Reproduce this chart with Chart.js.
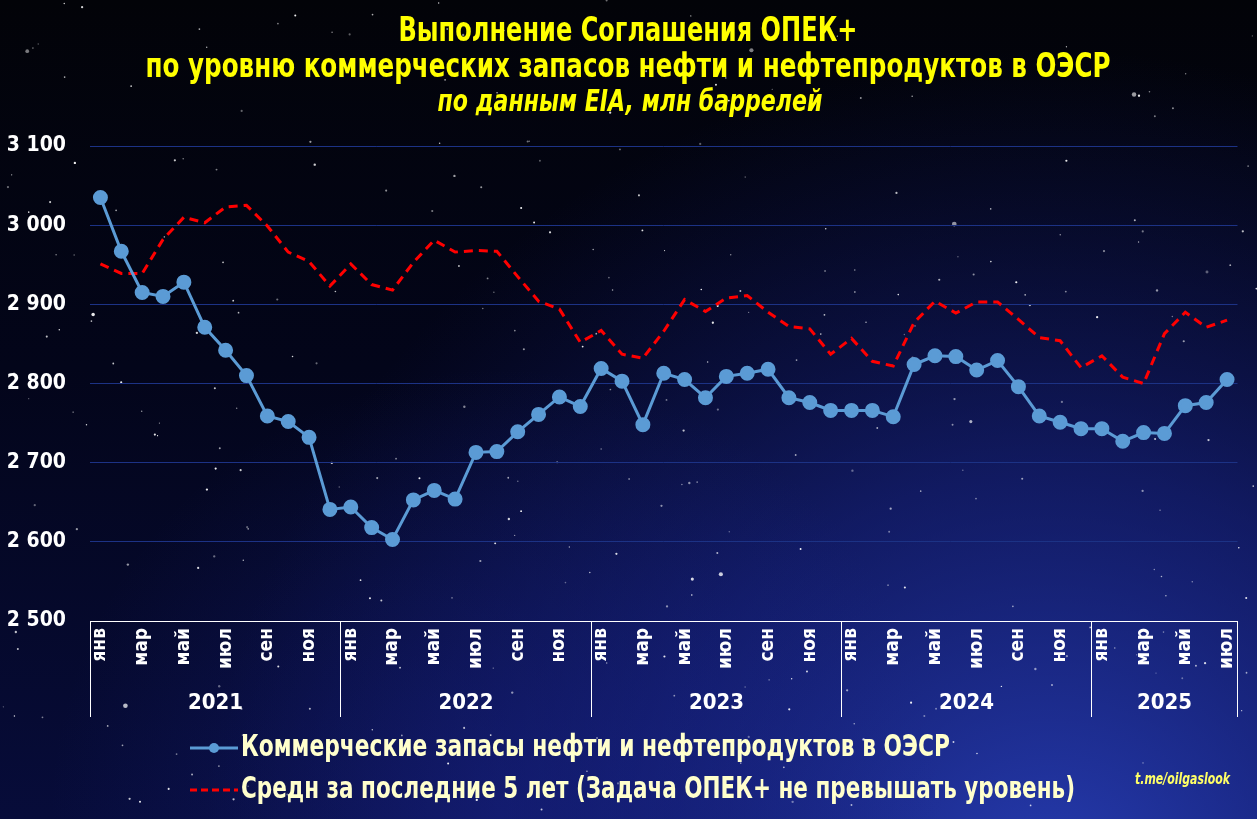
<!DOCTYPE html>
<html lang="ru">
<head>
<meta charset="UTF-8">
<title>ОПЕК+ запасы ОЭСР</title>
<script src="https://cdn.jsdelivr.net/npm/chart.js"></script>
<style>
  html, body { margin: 0; padding: 0; background: #020308; }
  canvas { display: block; }
</style>
</head>
<body>
<canvas id="chart" width="1257" height="819"></canvas>
<script>
// data (млн баррелей)
const years = [2021, 2022, 2023, 2024, 2025];
const monthNames = ['янв', 'фев', 'мар', 'апр', 'май', 'июн', 'июл', 'авг', 'сен', 'окт', 'ноя', 'дек'];
const lastMonthCount = 7; // 2025 ends in июл

const stocks = [
  3035, 2967, 2915, 2910, 2928, 2871, 2842, 2810, 2759, 2752, 2732, 2641,
  2644, 2618, 2603, 2653, 2665, 2654, 2713, 2714, 2739, 2761, 2783, 2771,
  2819, 2803, 2748, 2813, 2805, 2782, 2809, 2813, 2818, 2782, 2776, 2766,
  2766, 2766, 2758, 2824, 2835, 2834, 2817, 2829, 2796, 2759, 2751, 2743,
  2743, 2727, 2738, 2737, 2772, 2776, 2805
];
const avg5y = [
  2951, 2939, 2939, 2982, 3010, 3003, 3023, 3025, 2999, 2966, 2954, 2923,
  2951, 2925, 2918, 2953, 2981, 2966, 2968, 2967, 2935, 2904, 2894, 2852,
  2867, 2837, 2832, 2866, 2906, 2891, 2908, 2911, 2890, 2872, 2869, 2837,
  2857, 2828, 2822, 2877, 2904, 2889, 2903, 2903, 2881, 2858, 2854, 2820,
  2835, 2808, 2800, 2863, 2890, 2871, 2880
];
const yMin = 2500, yMax = 3100, yStep = 100;

const seriesNames = [
  'Коммерческие запасы нефти и нефтепродуктов в ОЭСР',
  'Средн за последние 5 лет (Задача ОПЕК+ не превышать уровень)'
];
const titleLines = [
  'Выполнение Соглашения ОПЕК+',
  'по уровню коммерческих запасов нефти и нефтепродуктов в ОЭСР'
];
const subtitle = 'по данным EIA, млн баррелей';
const watermark = 't.me/oilgaslook';

// category labels built from the arrays above
const labels = [];
years.forEach((y, yi) => {
  const n = yi === years.length - 1 ? lastMonthCount : 12;
  for (let m = 0; m < n; m++) labels.push(monthNames[m]);
});

const FONT = '"Liberation Sans Narrow", "DejaVu Sans Condensed", "Arial Narrow", sans-serif';
const blue = '#5b9bd5';
const red = '#ff0000';

function fmt(v) {
  return String(v).replace(/\B(?=(\d{3})+(?!\d))/g, ' ');
}

// background: dark sky getting bluer to the bottom right, with stars
const skyPlugin = {
  id: 'sky',
  beforeDraw(chart) {
    const { ctx, width, height } = chart;
    ctx.save();
    let g = ctx.createLinearGradient(0, 0, 0, height);
    g.addColorStop(0, '#020308');
    g.addColorStop(0.45, '#03051a');
    g.addColorStop(1, '#070c3a');
    ctx.fillStyle = g;
    ctx.fillRect(0, 0, width, height);

    g = ctx.createRadialGradient(1050, 900, 0, 1050, 900, 850);
    g.addColorStop(0, 'rgba(45,70,200,0.85)');
    g.addColorStop(0.5, 'rgba(30,45,160,0.5)');
    g.addColorStop(1, 'rgba(20,30,120,0)');
    ctx.fillStyle = g;
    ctx.fillRect(0, 0, width, height);

    g = ctx.createRadialGradient(500, 819, 0, 500, 819, 450);
    g.addColorStop(0, 'rgba(25,35,140,0.45)');
    g.addColorStop(1, 'rgba(25,35,140,0)');
    ctx.fillStyle = g;
    ctx.fillRect(0, 0, width, height);

    // fixed-seed stars (decoration only)
    let s = 20250817;
    const rnd = () => { s = (s * 16807) % 2147483647; return s / 2147483647; };
    for (let i = 0; i < 320; i++) {
      const x = rnd() * width, y = rnd() * height;
      const r = rnd() < 0.93 ? 0.6 + rnd() * 0.6 : 1.4 + rnd() * 1.2;
      ctx.fillStyle = 'rgba(255,255,255,' + (0.35 + rnd() * 0.6).toFixed(2) + ')';
      ctx.beginPath();
      ctx.arc(x, y, r, 0, Math.PI * 2);
      ctx.fill();
    }
    ctx.restore();
  }
};

// titles, year groups and legend
const decorPlugin = {
  id: 'decor',
  afterDraw(chart) {
    const { ctx } = chart;
    const xs = chart.scales.x;
    const top = chart.chartArea.bottom;
    ctx.save();

    // titles
    ctx.textAlign = 'center';
    ctx.textBaseline = 'middle';
    ctx.fillStyle = '#ffff00';
    ctx.font = 'bold 34px ' + FONT;
    ctx.fillText(titleLines[0], 628, 32, 459);
    ctx.fillText(titleLines[1], 628, 68, 965);
    ctx.font = 'italic bold 30px ' + FONT;
    ctx.fillText(subtitle, 630, 103, 385);

    // year separators and labels
    ctx.strokeStyle = '#ffffff';
    ctx.lineWidth = 1;
    let start = 0;
    ctx.font = 'bold 22px ' + FONT;
    ctx.fillStyle = '#ffffff';
    years.forEach((y, yi) => {
      const n = yi === years.length - 1 ? lastMonthCount : 12;
      const x0 = Math.round(xs.getPixelForValue(start - 0.5)) + 0.5;
      const x1 = Math.round(xs.getPixelForValue(start + n - 0.5)) + 0.5;
      ctx.beginPath();
      ctx.moveTo(x0, top);
      ctx.lineTo(x0, 717);
      if (yi === years.length - 1) {
        ctx.moveTo(x1, top);
        ctx.lineTo(x1, 717);
      }
      ctx.stroke();
      ctx.fillText(String(y), (x0 + x1) / 2, 703);
      start += n;
    });

    // legend
    ctx.textAlign = 'left';
    ctx.fillStyle = '#ffffcc';
    ctx.font = 'bold 30px ' + FONT;
    ctx.lineWidth = 3;
    ctx.strokeStyle = blue;
    ctx.beginPath();
    ctx.moveTo(190, 748);
    ctx.lineTo(238, 748);
    ctx.stroke();
    ctx.fillStyle = blue;
    ctx.beginPath();
    ctx.arc(214, 748, 5, 0, Math.PI * 2);
    ctx.fill();
    ctx.fillStyle = '#ffffcc';
    ctx.fillText(seriesNames[0], 241, 748, 709);

    ctx.strokeStyle = red;
    ctx.setLineDash([7, 4]);
    ctx.beginPath();
    ctx.moveTo(190, 790);
    ctx.lineTo(238, 790);
    ctx.stroke();
    ctx.setLineDash([]);
    ctx.fillText(seriesNames[1], 241, 790, 834);

    // watermark
    ctx.fillStyle = '#ffff66';
    ctx.font = 'italic bold 15px ' + FONT;
    ctx.fillText(watermark, 1135, 780, 95);
    ctx.restore();
  }
};

new Chart(document.getElementById('chart'), {
  type: 'line',
  data: {
    labels: labels,
    datasets: [
      {
        label: seriesNames[0],
        data: stocks,
        borderColor: blue,
        backgroundColor: blue,
        borderWidth: 3,
        pointRadius: 6,
        pointHoverRadius: 6,
        tension: 0
      },
      {
        label: seriesNames[1],
        data: avg5y,
        borderColor: red,
        backgroundColor: red,
        borderWidth: 3,
        borderDash: [9, 6],
        pointRadius: 0,
        tension: 0
      }
    ]
  },
  options: {
    responsive: false,
    animation: false,
    layout: { padding: { top: 146, right: 16, left: 0, bottom: 0 } },
    plugins: {
      legend: { display: false },
      title: { display: false },
      tooltip: { enabled: false }
    },
    scales: {
      x: {
        offset: true,
        grid: { display: false, drawTicks: false },
        border: { display: true, color: '#ffffff', width: 1 },
        afterFit(scale) { scale.height = 819 - 621; },
        ticks: {
          autoSkip: false,
          minRotation: 90,
          maxRotation: 90,
          padding: 7,
          color: '#ffffff',
          font: { family: FONT, size: 19, weight: 'bold' },
          callback: (v, i) => (i % 2 === 0 ? labels[i] : '')
        }
      },
      y: {
        min: yMin,
        max: yMax,
        afterFit(scale) { scale.width = 90; },
        grid: { color: '#1c3285', lineWidth: 1, drawTicks: false },
        border: { display: false },
        ticks: {
          stepSize: yStep,
          padding: 24,
          color: '#ffffff',
          font: { family: FONT, size: 21, weight: 'bold' },
          callback: v => fmt(v)
        }
      }
    }
  },
  plugins: [skyPlugin, decorPlugin]
});
</script>
</body>
</html>
